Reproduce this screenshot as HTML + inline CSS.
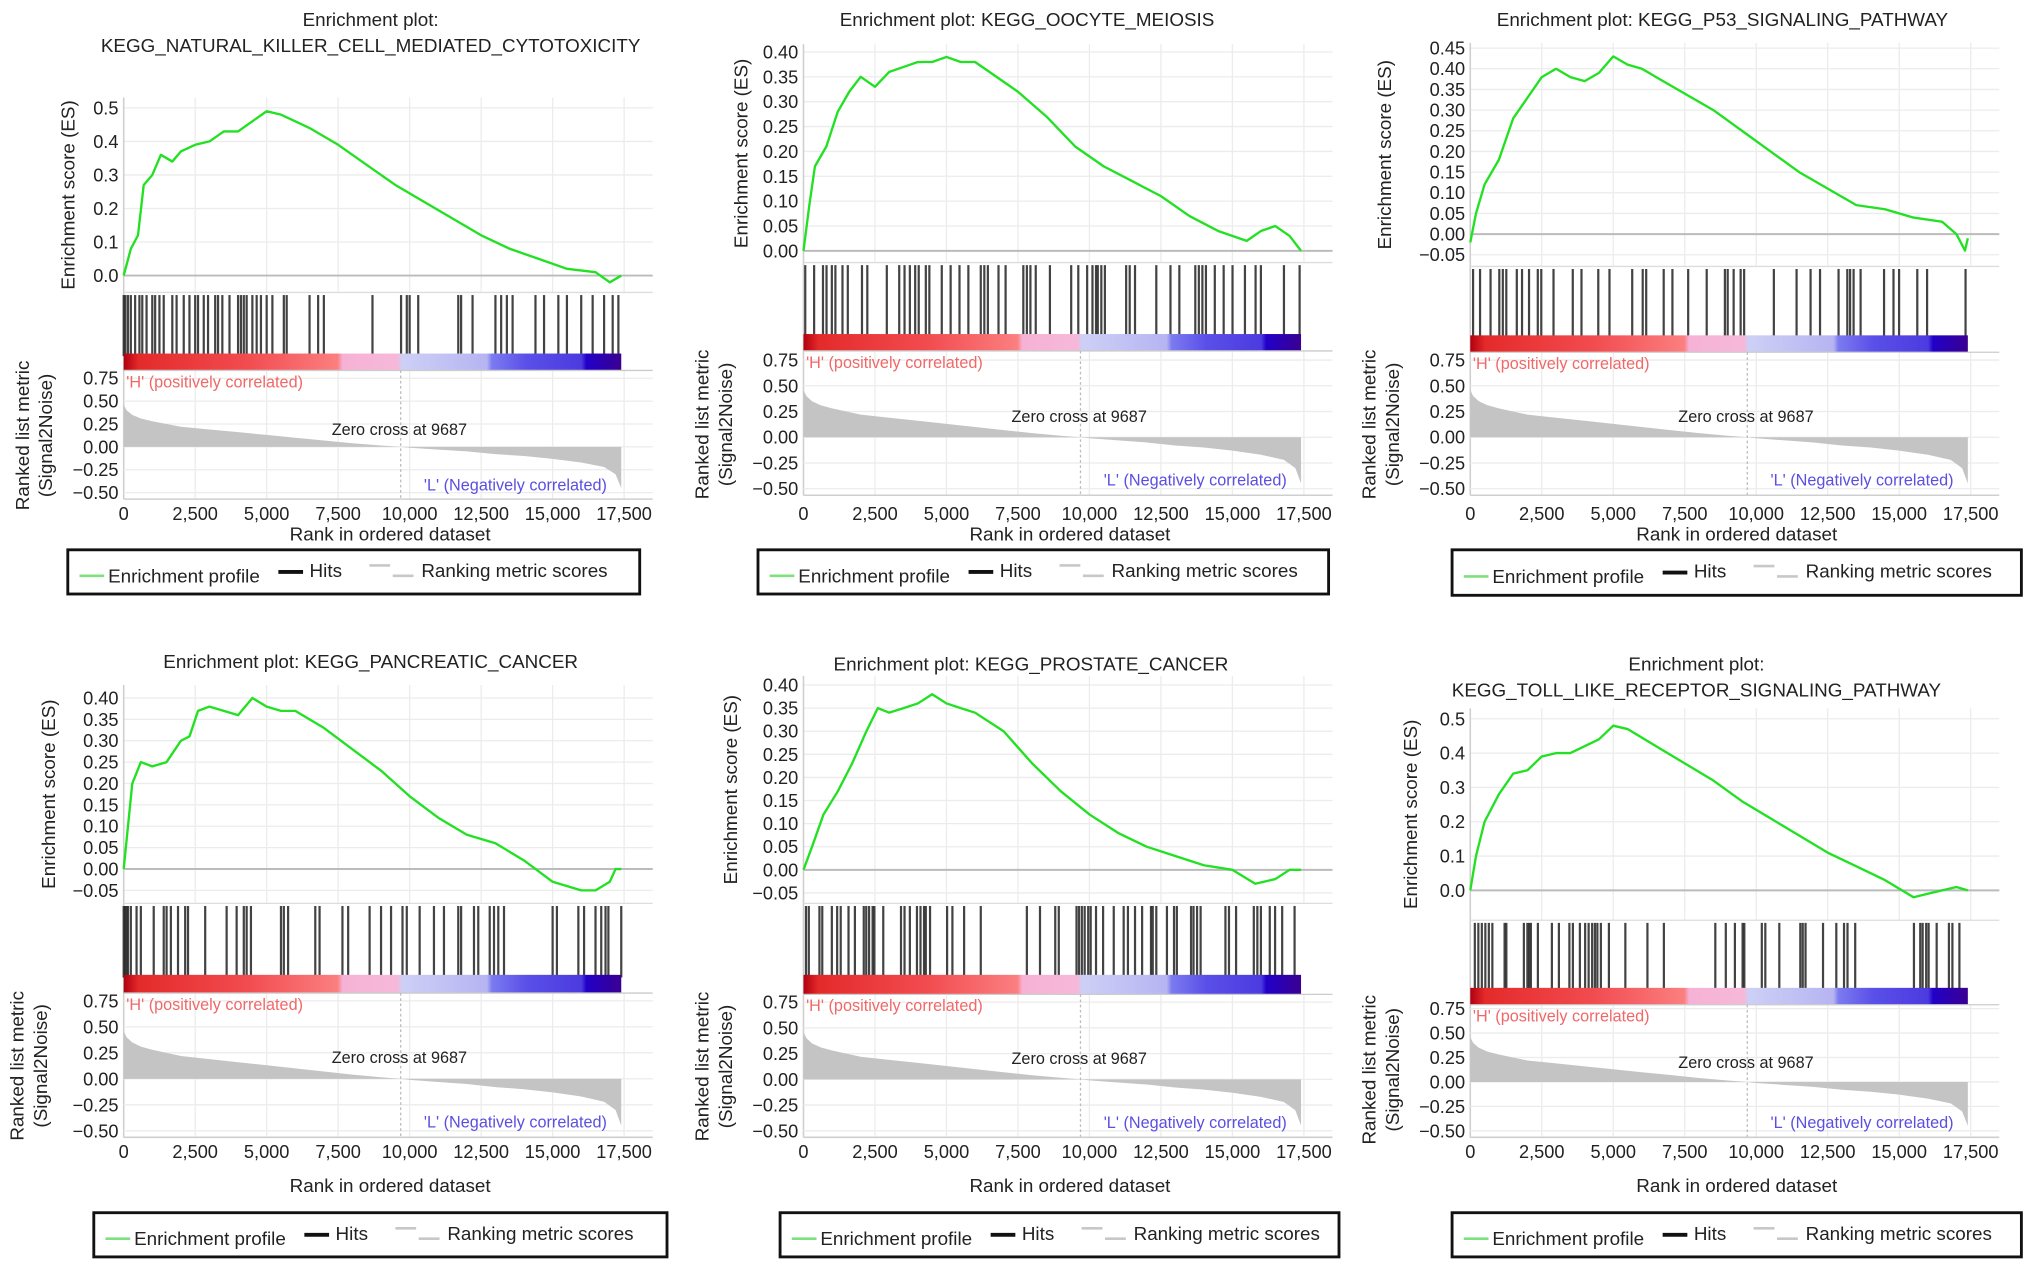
<!DOCTYPE html>
<html><head><meta charset="utf-8">
<style>
html,body{margin:0;padding:0;background:#fff;}
svg{display:block;font-family:"Liberation Sans",Arial,sans-serif;}
</style></head>
<body>
<svg id="fig" width="2032" height="1266" viewBox="0 0 1563 974" xmlns="http://www.w3.org/2000/svg"></svg>
<script>
// ---------- data ----------
const esTicks1 = [0,0.1,0.2,0.3,0.4,0.5];
const esTicks2 = [0,0.05,0.10,0.15,0.20,0.25,0.30,0.35,0.40];
const esTicks3 = [-0.05,0,0.05,0.10,0.15,0.20,0.25,0.30,0.35,0.40,0.45];
const esTicks4 = [-0.05,0,0.05,0.10,0.15,0.20,0.25,0.30,0.35,0.40];
const esTicks5 = [-0.05,0,0.05,0.10,0.15,0.20,0.25,0.30,0.35,0.40];
const esTicks6 = [0,0.1,0.2,0.3,0.4,0.5];
const rankTicks = [0,2500,5000,7500,10000,12500,15000,17500];
const metricTicks = [0.75,0.5,0.25,0,-0.25,-0.5];

const esRank1 = [0,250,500,700,1000,1300,1700,2000,2500,3000,3500,4000,4500,5000,5500,6000,6500,7500,8500,9500,10500,11500,12500,13500,14500,15500,16500,17000,17400];
const esVal1  = [0,0.08,0.12,0.27,0.30,0.36,0.34,0.37,0.39,0.40,0.43,0.43,0.46,0.49,0.48,0.46,0.44,0.39,0.33,0.27,0.22,0.17,0.12,0.08,0.05,0.02,0.01,-0.02,0.0];
const esRank2 = [0,200,400,800,1200,1600,2000,2500,3000,3500,4000,4500,5000,5500,6000,6500,7500,8500,9500,10500,11500,12500,13500,14500,15500,16000,16500,17000,17400];
const esVal2  = [0,0.09,0.17,0.21,0.28,0.32,0.35,0.33,0.36,0.37,0.38,0.38,0.39,0.38,0.38,0.36,0.32,0.27,0.21,0.17,0.14,0.11,0.07,0.04,0.02,0.04,0.05,0.03,0.0];
const esRank3 = [0,200,500,1000,1500,2000,2500,3000,3500,4000,4500,5000,5500,6000,6500,7500,8500,9500,10500,11500,12500,13500,14500,15500,16500,17000,17300,17400];
const esVal3  = [-0.02,0.05,0.12,0.18,0.28,0.33,0.38,0.40,0.38,0.37,0.39,0.43,0.41,0.40,0.38,0.34,0.30,0.25,0.20,0.15,0.11,0.07,0.06,0.04,0.03,0.0,-0.04,-0.01];
const esRank4 = [0,150,300,600,1000,1500,2000,2300,2600,3000,3500,4000,4500,5000,5500,6000,7000,8000,9000,10000,11000,12000,13000,14000,15000,16000,16500,17000,17200,17400];
const esVal4  = [0,0.10,0.20,0.25,0.24,0.25,0.30,0.31,0.37,0.38,0.37,0.36,0.40,0.38,0.37,0.37,0.33,0.28,0.23,0.17,0.12,0.08,0.06,0.02,-0.03,-0.05,-0.05,-0.03,0.0,0.0];
const esRank5 = [0,300,700,1200,1700,2200,2600,3000,3500,4000,4500,5000,5500,6000,7000,8000,9000,10000,11000,12000,13000,14000,15000,15800,16500,17000,17400];
const esVal5  = [0,0.05,0.12,0.17,0.23,0.30,0.35,0.34,0.35,0.36,0.38,0.36,0.35,0.34,0.30,0.23,0.17,0.12,0.08,0.05,0.03,0.01,0.0,-0.03,-0.02,0.0,0.0];
const esRank6 = [0,200,500,1000,1500,2000,2500,3000,3500,4000,4500,5000,5500,6500,7500,8500,9500,10500,11500,12500,13500,14500,15500,16000,16500,17000,17400];
const esVal6  = [0,0.10,0.20,0.28,0.34,0.35,0.39,0.40,0.40,0.42,0.44,0.48,0.47,0.42,0.37,0.32,0.26,0.21,0.16,0.11,0.07,0.03,-0.02,-0.01,0.0,0.01,0.0];

const hits1 = [0,60,150,250,400,550,650,800,1000,1100,1250,1400,1700,1850,2100,2300,2500,2600,2800,2950,3200,3300,3450,3700,4000,4100,4200,4300,4500,4650,4800,5000,5200,5600,5700,6500,6800,7000,8700,9700,9900,10000,10300,11700,11800,12200,13000,13200,13400,13600,14400,14700,15200,15500,16000,16400,16800,17100,17300];
const hits2 = [62,372,682,806,992,1116,1364,1550,2046,2232,2914,3348,3534,3720,3906,4030,4278,4402,4836,5146,5456,5766,6200,6324,6448,6820,7068,7688,7812,7936,8122,8618,9362,9610,9920,10106,10230,10292,10416,10540,11284,11408,11594,12338,12834,13144,13702,13826,13950,14074,14384,14694,15004,15438,15810,15996,16802,17350];
const hits3 = [98,342,709,1015,1138,1260,1627,1810,2055,2361,2483,2911,3584,3889,4476,4868,5663,6030,6152,6764,7069,7620,8268,8904,9002,9210,9455,9577,10616,11411,11900,12231,12879,13185,13283,13405,13650,14470,14800,14996,15632,15975,17320];
const hits4 = [0,50,100,150,250,450,600,1050,1400,1500,1650,1900,2150,2250,2850,3600,3950,4200,4300,4450,5500,5600,5750,6700,6850,7650,7850,8600,9000,9350,9750,9900,10350,10850,11200,11700,11800,12250,12400,12800,12950,13100,13300,15000,15150,15900,16100,16500,16700,16850,16950,17400];
const hits5 = [87,186,558,657,992,1178,1302,1575,1798,2108,2195,2294,2418,2480,2790,3410,3534,3720,3968,4092,4216,4278,4426,5022,5208,5617,6200,7812,8271,8804,8928,9548,9635,9734,9833,9957,10044,10230,10478,10850,11197,11346,11594,11842,12152,12214,12338,12710,12958,13057,13553,13640,13764,13888,14756,14880,15128,15748,15872,15996,16306,16492,16740,17174];
const hits6 = [159,282,404,527,649,772,1200,1262,1874,1997,2058,2119,2364,2854,3099,3466,3588,3833,4017,4139,4262,4359,4444,4567,4848,5423,6195,6770,8569,8936,9254,9523,9584,10195,10318,10807,11541,11626,11724,12336,12800,13070,13192,13461,15515,15735,15820,15943,16029,16310,16738,16860,17105];

const metricRank = [0,100,300,600,1000,2000,3000,4000,5000,6000,7000,8000,9000,9687,10000,11000,12000,13000,14000,15000,16000,16800,17200,17400];
const metricVal  = [0.46,0.40,0.35,0.31,0.28,0.22,0.19,0.16,0.13,0.10,0.07,0.04,0.015,0,-0.01,-0.03,-0.05,-0.08,-0.10,-0.13,-0.17,-0.22,-0.30,-0.45];
const zeroCross = 9687;
const titles = [
  ["Enrichment plot:","KEGG_NATURAL_KILLER_CELL_MEDIATED_CYTOTOXICITY"],
  ["Enrichment plot: KEGG_OOCYTE_MEIOSIS"],
  ["Enrichment plot: KEGG_P53_SIGNALING_PATHWAY"],
  ["Enrichment plot: KEGG_PANCREATIC_CANCER"],
  ["Enrichment plot: KEGG_PROSTATE_CANCER"],
  ["Enrichment plot:","KEGG_TOLL_LIKE_RECEPTOR_SIGNALING_PATHWAY"]
];

// ---------- layout (pixel positions, displayed units) ----------
const layouts = [
 {x0:95, tx:285, ty:[20,40], boxTop:75, hiY:83, loY:212, ticks:esTicks1, dec:1, hT:225, cT:272, cB:285, m75:291, m50:379, tickY:400, xlY:416, leg:[52,423,440,34], esTx:57, lt:[22,40], r:esRank1, v:esVal1, hits:hits1},
 {x0:618, tx:790, ty:[20], boxTop:34, hiY:40, loY:193, ticks:esTicks2, dec:2, hT:202, cT:257, cB:270, m75:277, m50:376, tickY:400, xlY:416, leg:[583,423,439,34], esTx:575, lt:[545,563], r:esRank2, v:esVal2, hits:hits2},
 {x0:1131, tx:1325, ty:[20], boxTop:33, hiY:37, loY:196, ticks:esTicks3, dec:2, hT:205, cT:258, cB:271, m75:277, m50:376, tickY:400, xlY:416, leg:[1117,423,438,35], esTx:1070, lt:[1058,1076], r:esRank3, v:esVal3, hits:hits3},
 {x0:95, tx:285, ty:[514], boxTop:527, hiY:537, loY:685, ticks:esTicks4, dec:2, hT:695, cT:750, cB:764, m75:770, m50:870, tickY:891, xlY:917, leg:[72,933,441,34], esTx:42, lt:[18,36], r:esRank4, v:esVal4, hits:hits4},
 {x0:618, tx:793, ty:[516], boxTop:520, hiY:527, loY:687, ticks:esTicks5, dec:2, hT:695, cT:750, cB:765, m75:771, m50:870, tickY:891, xlY:917, leg:[600,933,430,34], esTx:567, lt:[545,563], r:esRank5, v:esVal5, hits:hits5},
 {x0:1131, tx:1305, ty:[516,536], boxTop:545, hiY:553, loY:685, ticks:esTicks6, dec:1, hT:708, cT:760, cB:773, m75:776, m50:870, tickY:891, xlY:917, leg:[1117,933,438,34], esTx:1090, lt:[1058,1076], r:esRank6, v:esVal6, hits:hits6}
];

const NS = "http://www.w3.org/2000/svg";
const svg = document.getElementById('fig');
function mk(tag, attrs, parent){
  const e = document.createElementNS(NS, tag);
  for (const k in attrs) e.setAttribute(k, attrs[k]);
  (parent||svg).appendChild(e);
  return e;
}
function fmtRank(n){ return n.toLocaleString('en-US'); }

const defs = mk('defs',{});
const grad = mk('linearGradient',{id:'cbar',x1:'0',x2:'1',y1:'0',y2:'0'},defs);
[[0,'#b00010'],[0.03,'#e42a2a'],[0.25,'#f24c50'],[0.43,'#fb7f80'],[0.44,'#f6b2d6'],[0.55,'#f6b8d8'],[0.56,'#cdd0f6'],[0.73,'#b6b4f2'],[0.74,'#7b7bf0'],[0.81,'#5a4fe8'],[0.92,'#4c3be0'],[0.93,'#2200c8'],[1,'#3a0090']].forEach(s=>{
  mk('stop',{offset:s[0],'stop-color':s[1]},grad);
});

layouts.forEach((L,pi)=>{
  const g = mk('g',{});
  
  
  const W = 407;
  const xr = L.x0 + W;
  const xs = r => L.x0 + r*(385/17500);
  const tHi = L.ticks[L.ticks.length-1], tLo = L.ticks[0];
  const ys = v => L.loY + (v - tLo)*(L.hiY - L.loY)/(tHi - tLo);
  const ms = v => L.m75 + (0.75 - v)*(L.m50 - L.m75)/1.25;
  const bottom = L.m50 + 5;

  L.ty.forEach((ty,i)=>{
    const t = mk('text',{x:L.tx,y:ty,'font-size':14.5,'text-anchor':'middle',fill:'#222'},g);
    t.textContent = titles[pi][i];
    
    
  });

  const esArea = mk('g',{},g);
  
  
  rankTicks.forEach(r=>{
    mk('line',{x1:xs(r),x2:xs(r),y1:L.boxTop,y2:L.hT,stroke:'#ececec','stroke-width':1},esArea);
    mk('line',{x1:xs(r),x2:xs(r),y1:L.cB,y2:bottom,stroke:'#ececec','stroke-width':1},esArea);
  });
  L.ticks.forEach(v=>{
    mk('line',{x1:L.x0,x2:xr,y1:ys(v),y2:ys(v),stroke:'#ececec','stroke-width':1},esArea);
    const t = mk('text',{x:L.x0-4,y:ys(v)+5,'font-size':14,'text-anchor':'end',fill:'#222'},esArea);
    t.textContent = (v<0?'\u2212':'') + Math.abs(v).toFixed(L.dec);
    
    
  });
  mk('line',{x1:L.x0,x2:L.x0,y1:L.boxTop,y2:bottom,stroke:'#cfcfcf','stroke-width':1.2},esArea);
  mk('line',{x1:L.x0,x2:xr,y1:ys(0),y2:ys(0),stroke:'#bbb','stroke-width':1.5},esArea);
  mk('line',{x1:L.x0,x2:xr,y1:L.hT,y2:L.hT,stroke:'#ddd','stroke-width':1},esArea);

  const et = mk('text',{x:L.esTx,y:(L.boxTop+L.hT)/2,'font-size':14.5,'text-anchor':'middle',fill:'#222',transform:`rotate(-90 ${L.esTx} ${(L.boxTop+L.hT)/2})`},g);
  et.textContent = 'Enrichment score (ES)';
  
  

  let d = '';
  L.r.forEach((r,i)=>{ d += (i?'L':'M') + xs(r).toFixed(1) + ' ' + ys(L.v[i]).toFixed(1); });
  const es = mk('path',{d:d,fill:'none',stroke:'#22e022','stroke-width':1.8,'stroke-linejoin':'round'},g);
  
  

  const hg = mk('g',{},g);
  
  
  L.hits.forEach(h=>{
    const l = mk('line',{x1:xs(h),x2:xs(h),y1:L.hT+2,y2:L.cT+2,stroke:'#222','stroke-width':1.7,'stroke-opacity':0.85},hg);
    
    
  });

  const cb = mk('rect',{x:xs(0),y:L.cT,width:xs(17400)-xs(0),height:L.cB-L.cT,fill:'url(#cbar)'},g);
  
  
  mk('line',{x1:L.x0,x2:xr,y1:L.cB,y2:L.cB,stroke:'#ccc','stroke-width':1},g);

  metricTicks.forEach(v=>{
    mk('line',{x1:L.x0,x2:xr,y1:ms(v),y2:ms(v),stroke:'#ececec','stroke-width':1},g);
    const t = mk('text',{x:L.x0-4,y:ms(v)+5,'font-size':14,'text-anchor':'end',fill:'#222'},g);
    t.textContent = (v<0?'\u2212':'') + Math.abs(v).toFixed(2);
    
    
  });
  let md = 'M' + xs(0) + ' ' + ms(0);
  metricRank.forEach((r,i)=>{ md += 'L' + xs(r).toFixed(1) + ' ' + ms(metricVal[i]).toFixed(1); });
  md += 'L' + xs(metricRank[metricRank.length-1]).toFixed(1) + ' ' + ms(0) + 'Z';
  const ma = mk('path',{d:md,fill:'#c4c4c4',stroke:'none'},g);
  
  
  mk('line',{x1:xs(zeroCross),x2:xs(zeroCross),y1:L.cB,y2:bottom,stroke:'#bbb','stroke-width':1,'stroke-dasharray':'2,2'},g);
  mk('line',{x1:L.x0,x2:xr,y1:bottom,y2:bottom,stroke:'#cfcfcf','stroke-width':1.2},g);

  const hl = mk('text',{x:L.x0+2,y:L.cB+13,'font-size':12.5,fill:'#f06868'},g);
  hl.textContent = "'H' (positively correlated)";
  
  
  const zl = mk('text',{x:xs(zeroCross)-1,y:ms(0.3)+12,'font-size':12.5,'text-anchor':'middle',fill:'#222'},g);
  zl.textContent = 'Zero cross at ' + zeroCross;
  
  
  const ll = mk('text',{x:xs(13700),y:ms(-0.42)+4,'font-size':12.5,'text-anchor':'middle',fill:'#5a4fe0'},g);
  ll.textContent = "'L' (Negatively correlated)";
  
  

  L.lt.forEach((x,i)=>{
    const cy = (L.m75+L.m50)/2;
    const t = mk('text',{x:x,y:cy,'font-size':14.5,'text-anchor':'middle',fill:'#222',transform:`rotate(-90 ${x} ${cy})`},g);
    t.textContent = i===0 ? 'Ranked list metric' : '(Signal2Noise)';
    
    
  });

  rankTicks.forEach(r=>{
    const t = mk('text',{x:xs(r),y:L.tickY,'font-size':14,'text-anchor':'middle',fill:'#222'},g);
    t.textContent = fmtRank(r);
    
    
  });
  const xl = mk('text',{x:L.x0+205,y:L.xlY,'font-size':14.5,'text-anchor':'middle',fill:'#222'},g);
  xl.textContent = 'Rank in ordered dataset';
  
  

  const [lx,ly,lw,lh] = L.leg;
  const lg = mk('g',{},g);
  
  
  mk('rect',{x:lx,y:ly,width:lw,height:lh,fill:'#fff',stroke:'#111','stroke-width':2.2},lg);
  const cy = ly+lh/2;
  mk('line',{x1:lx+9,x2:lx+28,y1:cy+3,y2:cy+3,stroke:'#7fe07f','stroke-width':2},lg);
  const e1 = mk('text',{x:lx+31,y:cy+8,'font-size':14.5,fill:'#222'},lg);
  e1.textContent = 'Enrichment profile';
  
  
  mk('line',{x1:lx+162,x2:lx+181,y1:cy,y2:cy,stroke:'#111','stroke-width':3},lg);
  const e2 = mk('text',{x:lx+186,y:cy+4,'font-size':14.5,fill:'#222'},lg);
  e2.textContent = 'Hits';
  
  
  mk('line',{x1:lx+232,x2:lx+248,y1:cy-5,y2:cy-5,stroke:'#c8c8c8','stroke-width':2},lg);
  mk('line',{x1:lx+250,x2:lx+266,y1:cy+3,y2:cy+3,stroke:'#c8c8c8','stroke-width':2},lg);
  const e3 = mk('text',{x:lx+272,y:cy+4,'font-size':14.5,fill:'#222'},lg);
  e3.textContent = 'Ranking metric scores';
  
  
});
</script>
</body></html>
